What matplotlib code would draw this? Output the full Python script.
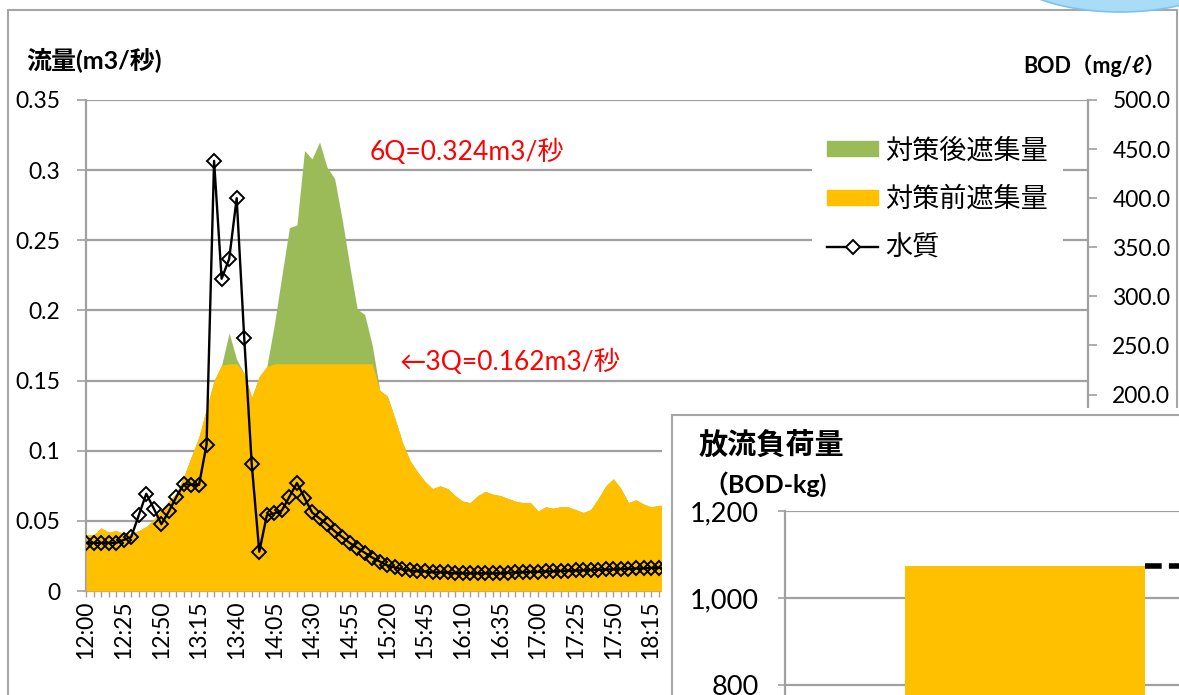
import numpy as np
import matplotlib
matplotlib.use("Agg")
import matplotlib.pyplot as plt
from matplotlib.patches import Rectangle, Ellipse, Patch
from matplotlib.lines import Line2D

plt.rcParams['font.family'] = ['Lato', 'Noto Sans CJK JP', 'DejaVu Sans']

# ---------------- data ----------------
times = [f"{12 + (5 * i) // 60}:{(5 * i) % 60:02d}" for i in range(78)]

flow_after = [   # 対策後遮集量 (m3/s)
    0.040, 0.040, 0.045, 0.042, 0.043, 0.041, 0.041, 0.043, 0.046, 0.051,
    0.058, 0.064, 0.070, 0.082, 0.096, 0.110, 0.130, 0.150, 0.161, 0.184,
    0.165, 0.155, 0.138, 0.153, 0.160, 0.190, 0.225, 0.259, 0.261, 0.314,
    0.308, 0.320, 0.302, 0.294, 0.265, 0.232, 0.201, 0.197, 0.175, 0.143,
    0.139, 0.123, 0.106, 0.093, 0.085, 0.078, 0.073, 0.075, 0.073, 0.068,
    0.064, 0.063, 0.068, 0.071, 0.069, 0.068, 0.066, 0.064, 0.063, 0.063,
    0.057, 0.060, 0.059, 0.060, 0.060, 0.058, 0.056, 0.058, 0.066, 0.075,
    0.080, 0.073, 0.063, 0.065, 0.062, 0.060, 0.061, 0.061]

flow_before = [  # 対策前遮集量 (m3/s), limited to 3Q
    0.040, 0.040, 0.045, 0.042, 0.043, 0.041, 0.041, 0.043, 0.046, 0.051,
    0.058, 0.064, 0.070, 0.082, 0.096, 0.110, 0.130, 0.150, 0.161, 0.162,
    0.162, 0.155, 0.138, 0.153, 0.160, 0.162, 0.162, 0.162, 0.162, 0.162,
    0.162, 0.162, 0.162, 0.162, 0.162, 0.162, 0.162, 0.162, 0.162, 0.143,
    0.139, 0.123, 0.106, 0.093, 0.085, 0.078, 0.073, 0.075, 0.073, 0.068,
    0.064, 0.063, 0.068, 0.071, 0.069, 0.068, 0.066, 0.064, 0.063, 0.063,
    0.057, 0.060, 0.059, 0.060, 0.060, 0.058, 0.056, 0.058, 0.066, 0.075,
    0.080, 0.073, 0.063, 0.065, 0.062, 0.060, 0.061, 0.061]

bod = [          # 水質 BOD (mg/l)
    49, 49, 49, 49, 49, 52, 55, 77, 99, 84,
    68, 81, 96, 109, 108, 108, 149, 438, 318, 338,
    400, 258, 129, 40, 77, 79, 82, 96, 110, 95,
    80, 74, 68, 61, 55, 49, 44, 39, 34, 30,
    26, 24, 22, 21, 20, 20, 19, 19, 19, 18,
    18, 18, 18, 18, 18, 18, 18.5, 19, 19, 19.5,
    19.5, 20, 20, 20.5, 20.5, 21, 21, 21.5, 21.5, 22,
    22, 22.5, 22.5, 23, 23, 23.5, 23.5, 24]

left_ticks = [0, 0.05, 0.1, 0.15, 0.2, 0.25, 0.3, 0.35]
left_tick_labels = ['0', '0.05', '0.1', '0.15', '0.2', '0.25', '0.3', '0.35']
right_ticks = [0, 50, 100, 150, 200, 250, 300, 350, 400, 450, 500]

series_labels = ['対策後遮集量', '対策前遮集量', '水質']

inset_categories = ['対策前']
inset_values = [1074]
inset_ticks = [0, 200, 400, 600, 800, 1000, 1200]

# ---------------- styling ----------------
GREEN = '#9BBB59'
YELLOW = '#FFC000'
GRID = '#A0A0A0'
W, H = 1179, 695


def fx(px):
    return px / W


def fy(py):
    return 1 - py / H


fig = plt.figure(figsize=(W / 100, H / 100), dpi=100)
fig.patch.set_facecolor('white')

ax = fig.add_axes([fx(86), fy(591), fx(1088) - fx(86), fy(100) - fy(591)])
x = np.arange(len(flow_after))

ax.fill_between(x, 0, flow_after, color=GREEN, lw=0, zorder=2)
ax.fill_between(x, 0, flow_before, color=YELLOW, lw=0, zorder=3)

ax.set_xlim(0, 133)
ax.set_ylim(0, 0.35)
ax.set_yticks(left_ticks)
ax.set_yticklabels(left_tick_labels)
ax.set_axisbelow(True)
ax.grid(axis='y', color=GRID, lw=1.6, zorder=0)
ax.set_xticks(x[::5])
ax.set_xticklabels(times[::5], rotation=90)
ax.set_xticks(np.arange(0, 134), minor=True)
for s in ['top', 'right']:
    ax.spines[s].set_visible(False)
for s in ['left', 'bottom']:
    ax.spines[s].set_color(GRID)
    ax.spines[s].set_linewidth(1.6)
ax.tick_params(axis='y', length=6.5, width=1.2, color=GRID, pad=12,
               labelsize=16.5)
ax.tick_params(axis='x', which='both', length=4, width=1.0, color=GRID,
               pad=3, labelsize=16.5)

ax2 = ax.twinx()
ax2.plot(x, bod, color='black', lw=1.7, marker='D', ms=6.8, mfc='none',
         mec='black', mew=1.4, zorder=5)
ax2.set_ylim(0, 500)
ax2.set_yticks(right_ticks)
ax2.set_yticklabels([f"{v:.1f}" for v in right_ticks])
for s in ['top', 'left', 'bottom']:
    ax2.spines[s].set_visible(False)
ax2.spines['right'].set_color(GRID)
ax2.spines['right'].set_linewidth(1.6)
ax2.tick_params(axis='y', length=6.5, width=1.2, color=GRID, pad=11,
                labelsize=16.5)

handles = [Patch(color=GREEN), Patch(color=YELLOW),
           Line2D([], [], color='black', lw=1.7, marker='D', ms=6.8,
                  mfc='white', mec='black', mew=1.4)]
leg = ax2.legend(handles, series_labels, loc='upper left',
                 bbox_to_anchor=(fx(812), fy(123)),
                 bbox_transform=fig.transFigure, frameon=True,
                 fancybox=False, edgecolor='none', facecolor='white',
                 framealpha=1, fontsize=19.5, handlelength=1.9,
                 handleheight=0.5, handletextpad=0.25, labelspacing=0.85,
                 borderpad=0.55, borderaxespad=0)

# axis titles and annotations
fig.text(fx(26), fy(60), '流量(m3/秒)', fontsize=18, weight='bold',
         ha='left', va='center')
fig.text(fx(1166), fy(66), 'BOD（mg/ℓ）', fontsize=15.5, weight='bold',
         ha='right', va='center')
fig.text(fx(370), fy(152), '6Q=0.324m3/秒', fontsize=19, color='red',
         ha='left', va='center')
fig.text(fx(400), fy(362), '←3Q=0.162m3/秒', fontsize=19, color='red',
         ha='left', va='center')

# outer frame and decoration
fig.add_artist(Rectangle((fx(8), fy(705)), fx(1177) - fx(8), fy(10) - fy(705),
                         transform=fig.transFigure, fill=False,
                         edgecolor='#A6A6A6', lw=1.5, zorder=1))
fig.add_artist(Ellipse((fx(1120), fy(-38)), 240 / W, 100 / H,
                       transform=fig.transFigure, facecolor='#A9DCF7',
                       edgecolor='#7CC3EC', lw=1.2, zorder=1))

# ---------------- inset chart ----------------
fig.add_artist(Rectangle((fx(662), 0), 1 - fx(662), fy(408),
                         transform=fig.transFigure, facecolor='white',
                         edgecolor='none', zorder=5))
fig.add_artist(Line2D([fx(672), fx(672)], [fy(415), fy(700)],
                      transform=fig.transFigure, color='#A6A6A6', lw=1.5,
                      zorder=7))
fig.add_artist(Line2D([fx(672), fx(1185)], [fy(415), fy(415)],
                      transform=fig.transFigure, color='#A6A6A6', lw=1.5,
                      zorder=7))

ax_in = fig.add_axes([fx(785), fy(1033), (1745 - 785) / W, (1033 - 511) / H])
ax_in.set_zorder(6)
ax_in.set_facecolor('none')
xi = np.arange(len(inset_values))
ax_in.bar(xi, inset_values, width=0.5, color=YELLOW, zorder=3)
ax_in.plot([xi[0] + 0.25, 1.6], [inset_values[0], inset_values[0]],
           color='black', lw=4, ls='--', dashes=(3, 1.3), zorder=4,
           solid_capstyle='butt', dash_capstyle='butt')
ax_in.set_xlim(-0.5, 1.5)
ax_in.set_ylim(0, 1200)
ax_in.set_yticks(inset_ticks)
ax_in.set_yticklabels([f"{v:,}" for v in inset_ticks])
ax_in.set_xticks([])
ax_in.set_axisbelow(True)
ax_in.grid(axis='y', color=GRID, lw=1.6, zorder=0)
for s in ['top', 'right', 'bottom']:
    ax_in.spines[s].set_visible(False)
ax_in.spines['left'].set_color(GRID)
ax_in.spines['left'].set_linewidth(1.6)
ax_in.tick_params(axis='y', length=5, width=1.2, color=GRID, pad=14,
                  labelsize=19.5)

fig.text(fx(699), fy(445), '放流負荷量', fontsize=21, weight='bold',
         ha='left', va='center', zorder=10)
fig.text(fx(703), fy(484), '（BOD-kg)', fontsize=18, weight='bold',
         ha='left', va='center', zorder=10)

fig.savefig('out.png', dpi=100)
